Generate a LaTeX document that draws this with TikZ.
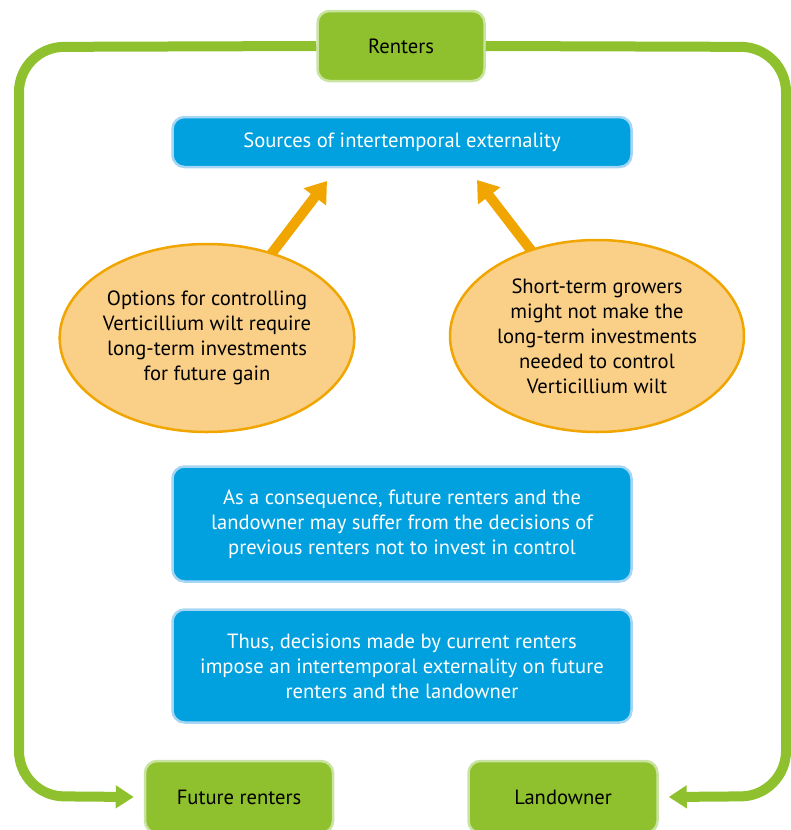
\documentclass[tikz,border=0pt]{standalone}
\usepackage{fontspec}
\setmainfont{PT Sans}
\usetikzlibrary{arrows.meta}
\usetikzlibrary{shapes.geometric}
\usetikzlibrary{backgrounds}
\definecolor{leafgreen}{HTML}{8FC12E}
\definecolor{leafpale}{HTML}{C9E3A0}
\definecolor{skyblue}{HTML}{00A1DE}
\definecolor{skypale}{HTML}{A6D6F4}
\definecolor{sandfill}{HTML}{FAD088}
\definecolor{amber}{HTML}{F0A500}

\begin{document}
\begin{tikzpicture}[x=1pt,y=-1pt,
			green node/.style={rectangle,rounded corners=12pt,fill=leafgreen,
				draw=leafpale,line width=2.5pt,minimum height=72pt,
				font=\fontsize{20.6}{25}\selectfont},
			blue node/.style={rectangle,rounded corners=12pt,fill=skyblue,
				draw=skypale,line width=2.5pt,minimum width=459pt,text=white,
				align=center,font=\fontsize{20.6}{25}\selectfont},
			oval node/.style={ellipse,fill=sandfill,draw=amber,line width=2.5pt,
				inner sep=0pt,align=center,font=\fontsize{20.6}{25}\selectfont},
			loop line/.style={draw=leafgreen,line width=10pt,rounded corners=45pt,
				-{Triangle[length=18pt,width=22pt]}},
			push line/.style={draw=amber,line width=10pt,
				-{Triangle[length=20pt,width=27pt]}}]
			
			\useasboundingbox (0,0) rectangle (791,830);
			
			\node[green node,minimum width=167pt,minimum height=70pt] (renters) at (401,46) {Renters};
			\node[green node,minimum width=188pt] (future) at (239,797) {Future renters};
			\node[green node,minimum width=189pt] (owner) at (563,797) {Landowner};
			
			\node[blue node,minimum height=50pt] (sources) at (402,142) {Sources of intertemporal externality};
			\node[blue node,minimum height=115pt] (conseq) at (402,524) {As a consequence, future renters and the\\landowner may suffer from the decisions of\\previous renters not to invest in control};
			\node[blue node,minimum height=113pt] (thus) at (402,666) {Thus, decisions made by current renters\\impose an intertemporal externality on future\\renters and the landowner};
			
			\node[oval node,minimum width=290pt,minimum height=188pt] (options) at (207,338) {Options for controlling\\Verticillium wilt require\\long-term investments\\for future gain};
			\node[oval node,minimum width=294pt,minimum height=192pt] (growers) at (597,336) {Short-term growers\\might not make the\\long-term investments\\needed to control\\Verticillium wilt};
			
			\coordinate (tipL) at (327,181);
			\coordinate (tipR) at (477,180);
			\begin{scope}[on background layer]
				\draw[push line] (options.center) -- (tipL);
				\draw[push line] (growers.center) -- (tipR);
			\end{scope}
			
			\draw[loop line] (renters.west) -- (19,47) -- (19,796) -- ([xshift=-10pt]future.west);
			\draw[loop line] (renters.east) -- (786,47) -- (786,796) -- ([xshift=10pt]owner.east);
			
		\end{tikzpicture}
\end{document}
